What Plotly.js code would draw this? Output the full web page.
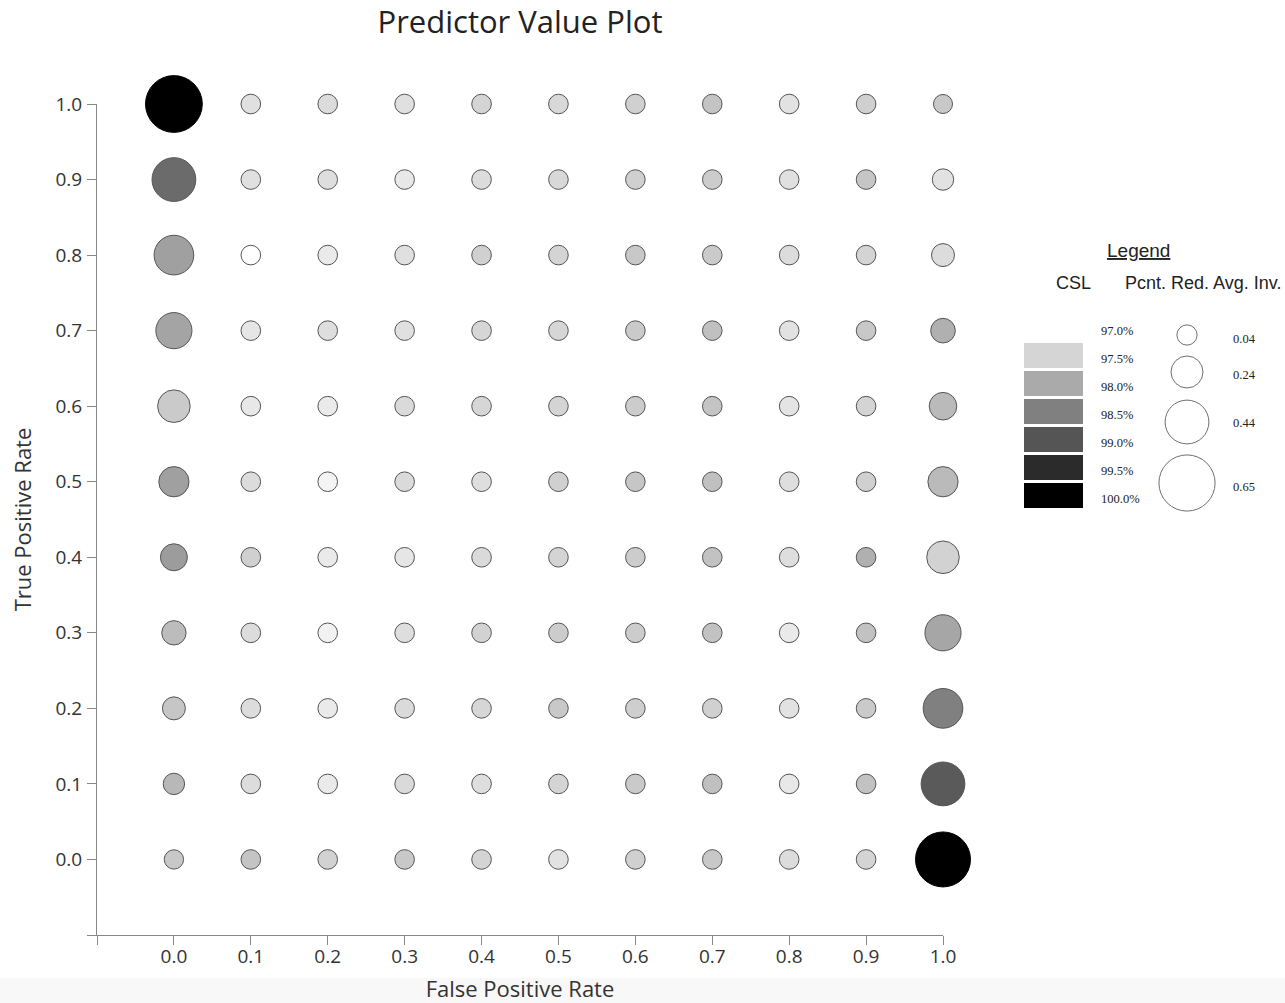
<!DOCTYPE html>
<html>
<head>
<meta charset="utf-8">
<script src="https://cdn.plot.ly/plotly-3.0.1.min.js"></script>
<style>html,body{margin:0;padding:0;background:#fff;}#chart{width:1285px;height:1003px;}</style>
</head>
<body>
<div id="chart"></div>
<script>
// False positive rate (columns) and true positive rate (rows, top to bottom)
const fpr = [0.0, 0.1, 0.2, 0.3, 0.4, 0.5, 0.6, 0.7, 0.8, 0.9, 1.0];
const tpr = [1.0, 0.9, 0.8, 0.7, 0.6, 0.5, 0.4, 0.3, 0.2, 0.1, 0.0];
const tickLabels = ["", "0.0", "0.1", "0.2", "0.3", "0.4", "0.5", "0.6", "0.7", "0.8", "0.9", "1.0"];

// CSL (%) per cell, rows = tpr, columns = fpr
const cslRow10 = [100.00, 97.36, 97.41, 97.36, 97.51, 97.46, 97.55, 97.69, 97.34, 97.55, 97.65];
const cslRow09 = [98.74, 97.36, 97.39, 97.27, 97.41, 97.46, 97.55, 97.60, 97.36, 97.67, 97.34];
const cslRow08 = [98.12, 97.00, 97.25, 97.36, 97.55, 97.51, 97.65, 97.62, 97.41, 97.51, 97.41];
const cslRow07 = [98.07, 97.29, 97.39, 97.36, 97.48, 97.48, 97.62, 97.74, 97.34, 97.65, 97.93];
const cslRow06 = [97.62, 97.27, 97.25, 97.44, 97.48, 97.51, 97.60, 97.69, 97.32, 97.51, 97.81];
const cslRow05 = [98.12, 97.41, 97.13, 97.44, 97.39, 97.55, 97.67, 97.74, 97.39, 97.55, 97.81];
const cslRow04 = [98.16, 97.55, 97.25, 97.29, 97.44, 97.51, 97.60, 97.72, 97.39, 97.93, 97.53];
const cslRow03 = [97.79, 97.41, 97.15, 97.39, 97.53, 97.60, 97.60, 97.72, 97.25, 97.72, 98.05];
const cslRow02 = [97.67, 97.41, 97.25, 97.44, 97.48, 97.65, 97.58, 97.55, 97.34, 97.62, 98.49];
const cslRow01 = [97.84, 97.41, 97.25, 97.44, 97.39, 97.51, 97.62, 97.74, 97.27, 97.72, 98.94];
const cslRow00 = [97.65, 97.69, 97.53, 97.65, 97.51, 97.34, 97.55, 97.65, 97.41, 97.51, 100.00];

// Percent reduction in average inventory per cell
const invRow10 = [0.66, 0.03, 0.03, 0.03, 0.03, 0.03, 0.03, 0.03, 0.03, 0.03, 0.02];
const invRow09 = [0.44, 0.03, 0.03, 0.03, 0.03, 0.03, 0.03, 0.03, 0.03, 0.03, 0.06];
const invRow08 = [0.37, 0.03, 0.03, 0.03, 0.03, 0.03, 0.03, 0.03, 0.03, 0.03, 0.087];
const invRow07 = [0.31, 0.03, 0.03, 0.03, 0.03, 0.03, 0.03, 0.03, 0.03, 0.03, 0.115];
const invRow06 = [0.25, 0.03, 0.03, 0.03, 0.03, 0.03, 0.03, 0.03, 0.03, 0.03, 0.165];
const invRow05 = [0.21, 0.03, 0.03, 0.03, 0.03, 0.03, 0.03, 0.03, 0.03, 0.03, 0.21];
const invRow04 = [0.155, 0.03, 0.03, 0.03, 0.03, 0.03, 0.03, 0.03, 0.03, 0.03, 0.25];
const invRow03 = [0.11, 0.03, 0.03, 0.03, 0.03, 0.03, 0.03, 0.03, 0.03, 0.03, 0.31];
const invRow02 = [0.087, 0.03, 0.03, 0.03, 0.03, 0.03, 0.03, 0.03, 0.03, 0.03, 0.37];
const invRow01 = [0.06, 0.03, 0.03, 0.03, 0.03, 0.03, 0.03, 0.03, 0.03, 0.03, 0.44];
const invRow00 = [0.025, 0.03, 0.03, 0.03, 0.03, 0.03, 0.03, 0.03, 0.03, 0.03, 0.63];

// Legend values
const legendCsl = [97.0, 97.5, 98.0, 98.5, 99.0, 99.5, 100.0];
const legendCslLabels = ["97.0%", "97.5%", "98.0%", "98.5%", "99.0%", "99.5%", "100.0%"];
const legendInv = [0.04, 0.24, 0.44, 0.65];
const legendInvLabels = ["0.04", "0.24", "0.44", "0.65"];

const cslRows = [cslRow10, cslRow09, cslRow08, cslRow07, cslRow06, cslRow05, cslRow04, cslRow03, cslRow02, cslRow01, cslRow00];
const invRows = [invRow10, invRow09, invRow08, invRow07, invRow06, invRow05, invRow04, invRow03, invRow02, invRow01, invRow00];

const CMIN = 97, CMAX = 100;
function diam(v) { return 2 * (9.43 + 29.48 * v) - 1; }
function gray(c) {
  const g = Math.round(255 * (CMAX - c) / (CMAX - CMIN));
  return "rgb(" + g + "," + g + "," + g + ")";
}

const xs = [], ys = [], cs = [], ss = [], lc = [];
tpr.forEach((t, i) => {
  fpr.forEach((f, j) => {
    xs.push(f); ys.push(t);
    cs.push(cslRows[i][j]);
    ss.push(diam(invRows[i][j]));
    lc.push(cslRows[i][j] >= 99.5 ? "#000" : "#555");
  });
});

const main = {
  type: "scatter", mode: "markers", x: xs, y: ys, xaxis: "x", yaxis: "y",
  cliponaxis: false, hoverinfo: "x+y",
  marker: {
    color: cs, cmin: CMIN, cmax: CMAX,
    colorscale: [[0, "rgb(255,255,255)"], [1, "rgb(0,0,0)"]],
    showscale: false, size: ss, sizemode: "diameter", opacity: 1,
    line: { color: lc, width: 1 }
  }
};

// legend area in pixel-like coordinates
const L0 = 1000, L1 = 1285, plotW = 846, paperW = 1285 - 97;
const circleY = [335, 372, 422, 483];
const legendCircles = {
  type: "scatter", mode: "markers", xaxis: "x2", yaxis: "y2", cliponaxis: false, hoverinfo: "skip",
  x: legendInv.map(() => 1187), y: circleY,
  marker: { color: "#fff", size: legendInv.map(diam), line: { color: "#333", width: 1 } }
};

const shapes = [];
const annotations = [];
const smallFont = { family: "Liberation Serif", size: 12.5, color: "#222" };
legendCsl.forEach((c, i) => {
  const top = 315 + 28 * i;
  shapes.push({ type: "rect", xref: "x2", yref: "y2", x0: 1024, x1: 1083, y0: top, y1: top + 25,
    fillcolor: gray(c), line: { width: 0 } });
  annotations.push({ xref: "x2", yref: "y2", x: 1099, y: top + 16, text: legendCslLabels[i], showarrow: false,
    xanchor: "left", yanchor: "middle", font: smallFont });
});
legendInv.forEach((v, i) => {
  const ly = [339, 375, 423, 487][i];
  annotations.push({ xref: "x2", yref: "y2", x: 1231, y: ly, text: legendInvLabels[i], showarrow: false,
    xanchor: "left", yanchor: "middle", font: smallFont });
});
annotations.push({ xref: "x2", yref: "y2", x: 1138, y: 250, text: "<u>Legend</u>", showarrow: false,
  xanchor: "center", yanchor: "middle", font: { family: "Liberation Sans", size: 19, color: "#222" } });
annotations.push({ xref: "x2", yref: "y2", x: 1073, y: 283, text: "CSL", showarrow: false,
  xanchor: "center", yanchor: "middle", font: { family: "Liberation Sans", size: 18, color: "#222" } });
annotations.push({ xref: "x2", yref: "y2", x: 1203, y: 283, text: "Pcnt. Red. Avg. Inv.", showarrow: false,
  xanchor: "center", yanchor: "middle", font: { family: "Liberation Sans", size: 18, color: "#222" } });

// grey band at the bottom of the page
shapes.push({ type: "rect", xref: "paper", yref: "paper", x0: -0.2, x1: 1.2, y0: -0.2, y1: -43 / 831,
  fillcolor: "#f8f8f8", line: { width: 0 }, layer: "below" });

const axisFont = { family: "Open Sans", size: 19, color: "#333" };
const layout = {
  width: 1285, height: 1003,
  margin: { l: 97, r: 0, t: 104, b: 68, pad: 0 },
  paper_bgcolor: "#fff", plot_bgcolor: "#fff",
  showlegend: false,
  title: { text: "Predictor Value Plot", x: (plotW / 2) / paperW, xref: "paper", xanchor: "center",
    y: 1 - 22 / 1003, yref: "container", yanchor: "middle",
    font: { family: "Open Sans", size: 31, color: "#222" } },
  xaxis: {
    domain: [0, plotW / paperW], range: [-0.1, 1.0], autorange: false,
    tickmode: "array", tickvals: [-0.1].concat(fpr), ticktext: tickLabels,
    ticks: "outside", ticklen: 9, tickcolor: "#888", tickwidth: 1, ticklabelstandoff: -5,
    showline: true, linecolor: "#888", linewidth: 1, showgrid: false, zeroline: false,
    tickfont: axisFont, automargin: false,
    title: { text: "False Positive Rate", standoff: 13, font: { family: "Open Sans", size: 22, color: "#333" } }
  },
  yaxis: {
    domain: [0, 1], range: [-0.1, 1.0], autorange: false,
    tickmode: "array", tickvals: [-0.1].concat(tpr.slice().reverse()), ticktext: tickLabels,
    ticks: "outside", ticklen: 9, tickcolor: "#888", tickwidth: 1, ticklabelstandoff: 1,
    showline: true, linecolor: "#888", linewidth: 1, showgrid: false, zeroline: false,
    tickfont: axisFont, automargin: false,
    title: { text: "True Positive Rate", standoff: 17, font: { family: "Open Sans", size: 22, color: "#333" } }
  },
  xaxis2: { domain: [(L0 - 97) / paperW, 1], range: [L0, L1], anchor: "y2", visible: false, fixedrange: true },
  yaxis2: { domain: [0, 1], range: [935, 104], anchor: "x2", visible: false, fixedrange: true },
  shapes: shapes,
  annotations: annotations
};

Plotly.newPlot("chart", [main, legendCircles], layout, { displayModeBar: false, responsive: false });
</script>
</body>
</html>
